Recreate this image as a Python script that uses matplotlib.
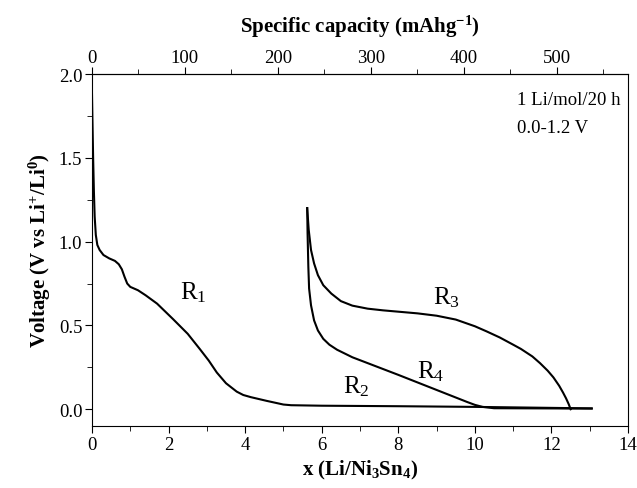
import matplotlib
matplotlib.use("Agg")
import matplotlib.pyplot as plt
from matplotlib.ticker import MultipleLocator, FormatStrFormatter

plt.rcParams['font.family'] = ['Liberation Serif', 'DejaVu Serif']
plt.rcParams['mathtext.fontset'] = 'custom'
plt.rcParams['mathtext.rm'] = 'Liberation Serif'
plt.rcParams['mathtext.it'] = 'Liberation Serif:italic'
plt.rcParams['mathtext.bf'] = 'Liberation Serif:bold'
plt.rcParams['mathtext.default'] = 'regular'

# first discharge (R1 -> R2)
x_r12 = [0.0, 0.01, 0.03, 0.05, 0.07, 0.1, 0.14, 0.2, 0.3, 0.45, 0.6, 0.7, 0.78, 0.85,
         0.92, 1.0, 1.2, 1.4, 1.7, 2.12, 2.5, 2.82, 3.05, 3.26, 3.5, 3.78, 3.95, 4.15,
         4.56, 5.0, 5.2, 6.0, 8.0, 10.0, 13.05]
v_r12 = [1.88, 1.75, 1.5, 1.3, 1.15, 1.04, 0.98, 0.95, 0.92, 0.9, 0.885, 0.865, 0.835, 0.79,
         0.75, 0.73, 0.71, 0.68, 0.63, 0.537, 0.45, 0.358, 0.29, 0.219, 0.155, 0.105, 0.085, 0.072,
         0.05, 0.028, 0.024, 0.021, 0.018, 0.014, 0.005]

# charge (R3), from end of discharge back up to 1.2 V
x_r3 = [12.5, 12.45, 12.38, 12.3, 12.2, 12.05, 11.9, 11.7, 11.5, 11.2, 11.0, 10.65, 10.3,
        10.0, 9.5, 9.0, 8.5, 8.0, 7.6, 7.2, 6.8, 6.5, 6.25, 6.04, 5.9, 5.8, 5.72, 5.66, 5.62]
v_r3 = [0.0, 0.03, 0.065, 0.1, 0.14, 0.19, 0.23, 0.275, 0.315, 0.36, 0.385, 0.428, 0.465,
        0.495, 0.535, 0.558, 0.572, 0.582, 0.59, 0.6, 0.618, 0.645, 0.69, 0.74, 0.8, 0.87, 0.95, 1.07, 1.2]

# second discharge (R4)
x_r4 = [5.62, 5.63, 5.65, 5.67, 5.72, 5.8, 5.9, 6.04, 6.2, 6.4, 6.8, 7.2, 7.6, 8.0, 8.5,
        9.0, 9.5, 9.8, 10.0, 10.2, 10.5, 13.05]
v_r4 = [1.2, 1.05, 0.85, 0.72, 0.62, 0.53, 0.47, 0.42, 0.385, 0.355, 0.31, 0.275, 0.24, 0.205,
        0.16, 0.115, 0.07, 0.043, 0.026, 0.014, 0.006, 0.004]

cap_per_x = 41.2  # mAh/g per Li
cap_ticks = [0, 100, 200, 300, 400, 500]
cap_minor = [50, 150, 250, 350, 450, 550]

fig = plt.figure(figsize=(6.37, 4.89), dpi=100)
ax = fig.add_axes([0.1444, 0.1268, 0.8416, 0.7198])

for xs, vs in [(x_r12, v_r12), (x_r3, v_r3), (x_r4, v_r4)]:
  ax.plot(xs, vs, color='black', lw=1.5)

ax.set_xlim(0, 14)
ax.set_ylim(-0.1, 2.0)
ax.xaxis.set_major_locator(MultipleLocator(2))
ax.xaxis.set_minor_locator(MultipleLocator(1))
ax.yaxis.set_major_locator(MultipleLocator(0.5))
ax.yaxis.set_minor_locator(MultipleLocator(0.25))
ax.yaxis.set_major_formatter(FormatStrFormatter('%.1f'))
ax.tick_params(which='both', direction='out', labelsize=13.5, top=False, right=False, pad=2)
ax.tick_params(which='major', length=5)
ax.tick_params(which='minor', length=3.5)

ax.set_xlabel(r'x (Li/Ni$_\mathbf{3}$Sn$_\mathbf{4}$)', fontsize=15, fontweight='bold', labelpad=4)
ax.set_ylabel(r'Voltage (V vs Li$^\mathbf{+}$/Li$^\mathbf{0}$)', fontsize=15, fontweight='bold', labelpad=4)

top = ax.secondary_xaxis('top', functions=(lambda x: x*cap_per_x, lambda c: c/cap_per_x))
top.set_xticks(cap_ticks)
top.set_xticks(cap_minor, minor=True)
top.tick_params(which='both', direction='out', labelsize=13.5, pad=1)
top.tick_params(which='major', length=5)
top.tick_params(which='minor', length=3.5)
top.set_xlabel(r'Specific capacity (mAhg$^\mathbf{-1}$)', fontsize=15, fontweight='bold', labelpad=12)

ax.text(2.3, 0.70, 'R$_1$', fontsize=18, va='center')
ax.text(6.55, 0.14, 'R$_2$', fontsize=18, va='center')
ax.text(8.9, 0.67, 'R$_3$', fontsize=18, va='center')
ax.text(8.5, 0.23, 'R$_4$', fontsize=18, va='center')

ax.text(11.1, 1.85, '1 Li/mol/20 h', fontsize=13.5, va='center')
ax.text(11.1, 1.68, '0.0-1.2 V', fontsize=13.5, va='center')

fig.savefig('out.png', dpi=100)
